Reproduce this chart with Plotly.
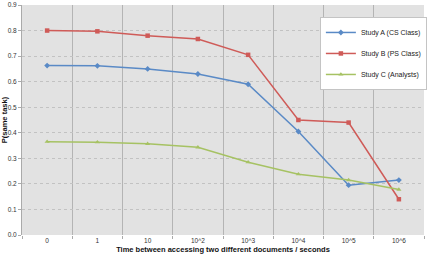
import plotly.graph_objects as go

categories = ["0", "1", "10", "10^2", "10^3", "10^4", "10^5", "10^6"]
study_a = [0.663, 0.662, 0.650, 0.630, 0.590, 0.405, 0.195, 0.215]
study_b = [0.800, 0.797, 0.780, 0.767, 0.705, 0.450, 0.440, 0.140]
study_c = [0.365, 0.363, 0.357, 0.343, 0.285, 0.238, 0.215, 0.178]
names = ["Study A (CS Class)", "Study B (PS Class)", "Study C (Analysts)"]

colors = ["#5a8ac6", "#cf5b58", "#a6c263"]
symbols = ["diamond", "square", "triangle-up"]

fig = go.Figure()
for i, (vals, name) in enumerate(zip([study_a, study_b, study_c], names)):
    fig.add_trace(go.Scatter(
        x=categories, y=vals, name=name, mode="lines+markers",
        line=dict(color=colors[i], width=1.5),
        marker=dict(symbol=symbols[i], size=4.5, color=colors[i]),
        legendgroup=str(i),
    ))

font = "Liberation Sans, Arial, sans-serif"
fig.update_layout(
    width=427, height=257,
    margin=dict(l=21, r=0, t=5, b=22),
    paper_bgcolor="white", plot_bgcolor="#e2e2e2",
    font=dict(family=font, size=7, color="#333"),
    showlegend=True,
    legend=dict(x=0.741, y=0.948, xanchor="left", yanchor="top",
                bgcolor="white", bordercolor="#c4c4c4", borderwidth=1,
                font=dict(size=7, color="#222"), tracegroupgap=2,
                traceorder="grouped", itemwidth=30),
    xaxis=dict(type="category", range=[-0.5, 7.5], tickson="boundaries",
               showgrid=True, gridcolor="#b4b4b4", gridwidth=1,
               ticks="outside", ticklen=3, tickcolor="#aaa",
               showline=False, zeroline=False,
               tickfont=dict(size=6.5, color="#333"),
               title=dict(text="<b>Time between accessing two different documents / seconds</b>",
                          font=dict(size=7.5, color="#111"), standoff=4)),
    yaxis=dict(range=[0, 0.9], dtick=0.1, tickformat=".1f",
               showgrid=True, gridcolor="#c2c2c2", griddash="dot", gridwidth=1,
               ticks="outside", ticklen=3, tickcolor="#aaa",
               showline=True, linecolor="#aaa", linewidth=1, zeroline=False,
               tickfont=dict(size=6.5, color="#333"),
               title=dict(text="<b>P(same task)</b>", font=dict(size=7.5, color="#111"), standoff=2)),
)
fig.write_html("out.html")
